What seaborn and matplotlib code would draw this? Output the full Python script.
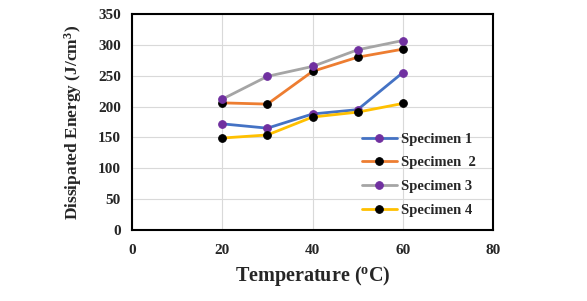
import matplotlib
matplotlib.use("Agg")
import matplotlib.pyplot as plt
import seaborn as sns
import pandas as pd

temperature = [20, 30, 40, 50, 60]
specimen_1 = [172, 165, 188, 195, 255]
specimen_2 = [206, 204, 257, 280, 293]
specimen_3 = [212, 249, 265, 292, 307]
specimen_4 = [149, 154, 183, 191, 205]
labels = ["Specimen 1", "Specimen  2", "Specimen 3", "Specimen 4"]
line_colors = ["#4472C4", "#ED7D31", "#A5A5A5", "#FFC000"]
marker_colors = ["#7030A0", "#000000", "#7030A0", "#000000"]
x_ticks = [0, 20, 40, 60, 80]
y_ticks = [0, 50, 100, 150, 200, 250, 300, 350]

sns.set_theme(style="white")
plt.rcParams['font.family'] = ['Liberation Serif', 'DejaVu Serif']
plt.rcParams['mathtext.fontset'] = 'custom'
plt.rcParams['mathtext.rm'] = 'Liberation Serif:bold'
plt.rcParams['mathtext.it'] = 'Liberation Serif:bold'
plt.rcParams['mathtext.bf'] = 'Liberation Serif:bold'

fig = plt.figure(figsize=(5.87, 3.01), dpi=100)
ax = fig.add_axes([0.2249, 0.2359, 0.6150, 0.7176])

series = [specimen_1, specimen_2, specimen_3, specimen_4]
for vals, lab, lc, mc in zip(series, labels, line_colors, marker_colors):
    df = pd.DataFrame({"Temperature": temperature, "Energy": vals})
    sns.lineplot(data=df, x="Temperature", y="Energy", ax=ax, color=lc,
                 linewidth=2, marker="o", markersize=5.5,
                 markerfacecolor=mc, markeredgecolor=mc, label=lab)

ax.set_xlim(0, 80)
ax.set_ylim(0, 350)
ax.set_xticks(x_ticks)
ax.set_yticks(y_ticks)
ax.grid(True, color="#D9D9D9", linewidth=0.8)
ax.set_axisbelow(True)
for s in ax.spines.values():
    s.set_color("#000000")
    s.set_linewidth(1.5)
ax.tick_params(axis="both", length=0, labelsize=11, pad=8)
for t in ax.get_xticklabels() + ax.get_yticklabels():
    t.set_fontweight("bold")
ax.tick_params(axis="x", pad=10)

ax.set_xlabel("Temperature ($^{o}$C)", fontsize=14.5, fontweight="bold", labelpad=5)
ax.set_ylabel("Dissipated Energy (J/cm$^{3}$)", fontsize=12.5, fontweight="bold", labelpad=10)

leg = ax.legend(loc="lower left", bbox_to_anchor=(0.6, 0.0), frameon=False,
                prop={"family": "Liberation Serif", "weight": "bold", "size": 10.5},
                handlelength=2.4, labelspacing=0.72, handletextpad=0.3)

fig.savefig("out.png", dpi=100)
